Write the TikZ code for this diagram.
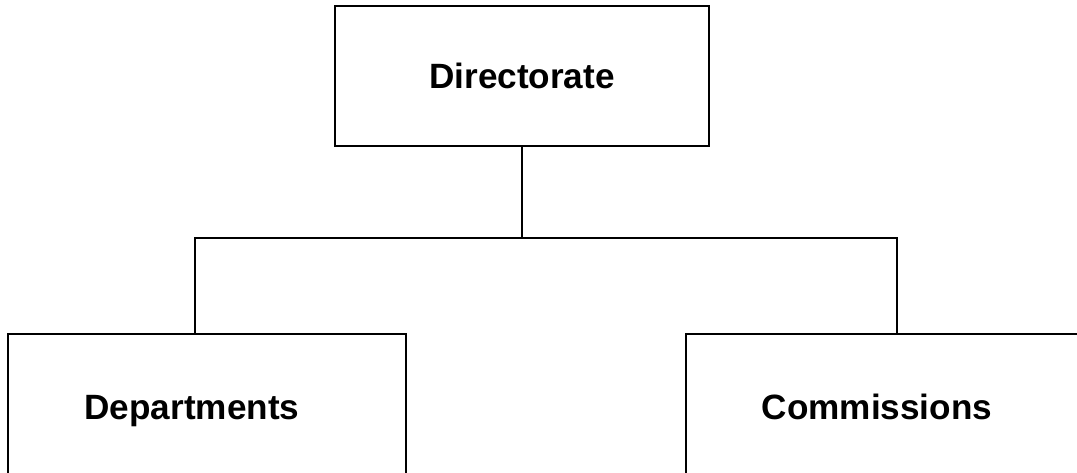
\documentclass[tikz,border=0pt]{standalone}
\usepackage{fontspec}
\setmainfont{Liberation Sans}
\usetikzlibrary{positioning}

\begin{document}
\begin{tikzpicture}[
      unit/.style={draw=black, line width=1.1pt, fill=white, align=center,
                   text height=14pt, text depth=4pt,
                   font=\fontsize{20}{24}\selectfont\bfseries},
      link/.style={draw=black, line width=0.8pt}
    ]
    \useasboundingbox (0,0) rectangle (21.54,9.44);
    \clip (0,0) rectangle (21.54,9.44);
    \node[unit, minimum width=7.48cm, minimum height=2.8cm] (dir) at (10.44,7.92) {\raisebox{-2pt}{Directorate}};
    \node[unit, minimum width=7.96cm, minimum height=3.08cm] (dep) at (4.14,1.22) {\hspace*{-0.6cm}Departments};
    \node[unit, minimum width=8.02cm, minimum height=3.08cm] (com) at (17.73,1.22) {\hspace*{-0.38cm}Commissions};
    % branch point under the directorate
    \coordinate (split) at (dir.south |- 0,4.68);
    \draw[link] (dir.south) -- (split);
    \draw[link] (split) -| ([xshift=-0.24cm]dep.north);
    \draw[link] (split) -| ([xshift=0.21cm]com.north);
  \end{tikzpicture}
\end{document}
